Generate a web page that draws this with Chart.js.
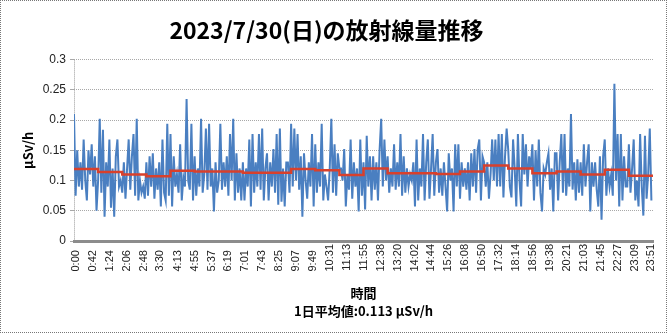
<!DOCTYPE html>
<html lang="ja">
<head>
<meta charset="utf-8">
<script src="https://cdn.jsdelivr.net/npm/chart.js@4"></script>
<style>
  html, body { margin: 0; padding: 0; background: #fff; }
  #wrap  { position: relative; width: 670px; height: 336px; }
  #frame { position: absolute; left: 0; top: 0; width: 667px; height: 333px;
           box-sizing: border-box; border: 1px dotted #777; pointer-events: none; }
</style>
</head>
<body>
<div id="wrap">
  <canvas id="doseChart" width="670" height="336"></canvas>
  <div id="frame"></div>
</div>
<script>
// ── data ───────────────────────────────────────────────────────────
const chartTitle = '2023/7/30(日)の放射線量推移';
const dailyAvg   = 0.113;
const sampleStep = 4;   // minutes between readings below

// readings (µSv/h), one row per hour
const doseValues = [
  0.21, 0.075, 0.15, 0.09, 0.13, 0.085, 0.168, 0.10, 0.067, 0.15, 0.11, 0.16, 0.09, 0.14, 0.05,
  0.10, 0.202, 0.08, 0.184, 0.04, 0.13, 0.09, 0.168, 0.055, 0.12, 0.04, 0.14, 0.168, 0.09, 0.10,
  0.08, 0.13, 0.07, 0.12, 0.168, 0.085, 0.14, 0.177, 0.075, 0.202, 0.067, 0.10, 0.08, 0.09, 0.07,
  0.13, 0.075, 0.14, 0.09, 0.145, 0.07, 0.12, 0.085, 0.13, 0.057, 0.168, 0.08, 0.067, 0.194, 0.075,
  0.177, 0.057, 0.14, 0.09, 0.11, 0.08, 0.16, 0.067, 0.105, 0.09, 0.235, 0.10, 0.085, 0.194, 0.067,
  0.14, 0.075, 0.12, 0.09, 0.202, 0.08, 0.11, 0.186, 0.085, 0.194, 0.09, 0.12, 0.049, 0.13, 0.08,
  0.10, 0.194, 0.085, 0.13, 0.09, 0.14, 0.075, 0.177, 0.10, 0.202, 0.067, 0.145, 0.08, 0.12, 0.067,
  0.13, 0.067, 0.12, 0.09, 0.168, 0.057, 0.177, 0.08, 0.13, 0.09, 0.177, 0.085, 0.186, 0.067, 0.12,
  0.145, 0.067, 0.13, 0.09, 0.152, 0.08, 0.177, 0.06, 0.186, 0.065, 0.12, 0.057, 0.13, 0.13, 0.08,
  0.194, 0.09, 0.186, 0.10, 0.177, 0.085, 0.14, 0.04, 0.145, 0.10, 0.07, 0.13, 0.09, 0.177, 0.057,
  0.16, 0.08, 0.13, 0.09, 0.194, 0.067, 0.11, 0.09, 0.067, 0.12, 0.202, 0.08, 0.16, 0.075, 0.145,
  0.12, 0.12, 0.10, 0.152, 0.057, 0.11, 0.085, 0.168, 0.07, 0.13, 0.09, 0.12, 0.049, 0.168, 0.075,
  0.13, 0.052, 0.174, 0.09, 0.14, 0.067, 0.14, 0.085, 0.13, 0.067, 0.15, 0.202, 0.09, 0.168, 0.10,
  0.14, 0.08, 0.12, 0.09, 0.16, 0.085, 0.13, 0.09, 0.177, 0.075, 0.14, 0.08, 0.12, 0.09, 0.11,
  0.10, 0.13, 0.057, 0.168, 0.067, 0.12, 0.09, 0.177, 0.067, 0.13, 0.168, 0.07, 0.12, 0.177, 0.075,
  0.13, 0.152, 0.08, 0.12, 0.075, 0.13, 0.09, 0.049, 0.145, 0.10, 0.12, 0.049, 0.16, 0.09, 0.16,
  0.07, 0.13, 0.09, 0.12, 0.085, 0.13, 0.067, 0.145, 0.09, 0.152, 0.08, 0.152, 0.168, 0.067, 0.14,
  0.13, 0.09, 0.13, 0.07, 0.11, 0.168, 0.10, 0.168, 0.09, 0.177, 0.09, 0.177, 0.072, 0.14, 0.186,
  0.15, 0.09, 0.072, 0.168, 0.12, 0.057, 0.177, 0.10, 0.057, 0.177, 0.11, 0.16, 0.09, 0.14, 0.12,
  0.16, 0.067, 0.15, 0.09, 0.168, 0.08, 0.049, 0.12, 0.11, 0.13, 0.145, 0.085, 0.12, 0.049, 0.145,
  0.145, 0.067, 0.13, 0.177, 0.08, 0.177, 0.075, 0.12, 0.09, 0.21, 0.085, 0.13, 0.067, 0.135, 0.08,
  0.13, 0.075, 0.16, 0.09, 0.13, 0.16, 0.049, 0.13, 0.09, 0.13, 0.085, 0.057, 0.14, 0.035, 0.14,
  0.168, 0.075, 0.12, 0.09, 0.11, 0.075, 0.26, 0.10, 0.177, 0.057, 0.177, 0.067, 0.14, 0.09, 0.09,
  0.16, 0.08, 0.12, 0.168, 0.067, 0.10, 0.057, 0.177, 0.09, 0.042, 0.174, 0.07, 0.11, 0.186, 0.067,
];

// hourly averages (red step line), 0時 .. 23時
const hourlyAvg = [
  0.119, 0.114, 0.110, 0.107, 0.116, 0.115, 0.115, 0.113, 0.113, 0.119, 0.117, 0.109,
  0.120, 0.112, 0.112, 0.111, 0.115, 0.125, 0.120, 0.112, 0.115, 0.110, 0.118, 0.108,
];

const tickLabels = [
  '0:00', '0:42', '1:24', '2:06', '2:48', '3:30', '4:13', '4:55', '5:37', '6:19', '7:01', '7:43',
  '8:25', '9:07', '9:49', '10:31', '11:13', '11:55', '12:38', '13:20', '14:02', '14:44', '15:26',
  '16:08', '16:50', '17:32', '18:14', '18:56', '19:38', '20:21', '21:03', '21:45', '22:27', '23:09', '23:51',
];

const yTicks = [0, 0.05, 0.1, 0.15, 0.2, 0.25, 0.3];

// ── helpers ────────────────────────────────────────────────────────
const toMin = t => { const [h, m] = t.split(':'); return h * 60 + Number(m); };
const pad5  = t => (t.length < 5 ? t + '\u2007' : t);

const doseData = doseValues.map((v, i) => ({ x: i * sampleStep, y: v }));
const avgData  = hourlyAvg.map((v, h) => ({ x: h * 60, y: v }));
avgData.push({ x: 24 * 60, y: hourlyAvg[hourlyAvg.length - 1] });

const jpFont = '"Noto Sans CJK JP", "Noto Sans", sans-serif';
const numFont = '"Liberation Sans", Arial, sans-serif';

new Chart(document.getElementById('doseChart'), {
  type: 'line',
  data: {
    datasets: [
      { label: '1時間平均', data: avgData, borderColor: '#d8402c', borderWidth: 2.5,
        stepped: true, pointRadius: 0, order: 0 },
      { label: '放射線量', data: doseData, borderColor: '#4a7fc1', borderWidth: 2,
        pointRadius: 0, tension: 0, order: 1 },
    ],
  },
  options: {
    responsive: false,
    animation: false,
    events: [],
    layout: { padding: { left: 0, right: 17, top: 0, bottom: 0 } },
    plugins: {
      legend: { display: false },
      tooltip: { enabled: false },
      title: {
        display: true, text: chartTitle, color: '#000',
        font: { family: jpFont, size: 23, weight: 'bold', lineHeight: 1.2 },
        padding: { top: 16, bottom: 16 },
      },
    },
    scales: {
      x: {
        type: 'linear', min: 0, max: 24 * 60,
        afterBuildTicks: s => { s.ticks = tickLabels.map(t => ({ value: toMin(t) })); },
        afterFit: s => { s.height = 95; },
        ticks: {
          autoSkip: false, minRotation: 90, maxRotation: 90, padding: 3, labelOffset: 2,
          color: '#222', font: { family: numFont, size: 11 },
          callback: (v, i) => pad5(tickLabels[i]),
        },
        grid: { drawTicks: false, color: c => (c.tick && c.tick.value === 0 ? '#999' : 'rgba(0,0,0,0)') },
        border: { display: true, color: '#8c8c8c', width: 3, dash: [1, 1] },
        title: {
          display: true, text: ['時間', `1日平均値:${dailyAvg} µSv/h`], color: '#000',
          font: { family: jpFont, size: 13, weight: 'bold', lineHeight: 1.4 },
          padding: { top: 0, bottom: 16 },
        },
      },
      y: {
        min: 0, max: 0.3,
        afterBuildTicks: s => { s.ticks = yTicks.map(v => ({ value: v })); },
        afterFit: s => { s.width = 74; },
        ticks: {
          padding: 4, color: '#222', font: { family: numFont, size: 12 },
          callback: v => String(v),
        },
        grid: { color: '#a8a8a8', tickLength: 4 },
        border: { display: false, dash: [1, 1] },
        title: {
          display: true, text: 'µSv/h', color: '#000',
          font: { family: jpFont, size: 13, weight: 'bold', lineHeight: 1.2 },
          padding: { top: 20, bottom: 0 },
        },
      },
    },
  },
});
</script>
</body>
</html>
